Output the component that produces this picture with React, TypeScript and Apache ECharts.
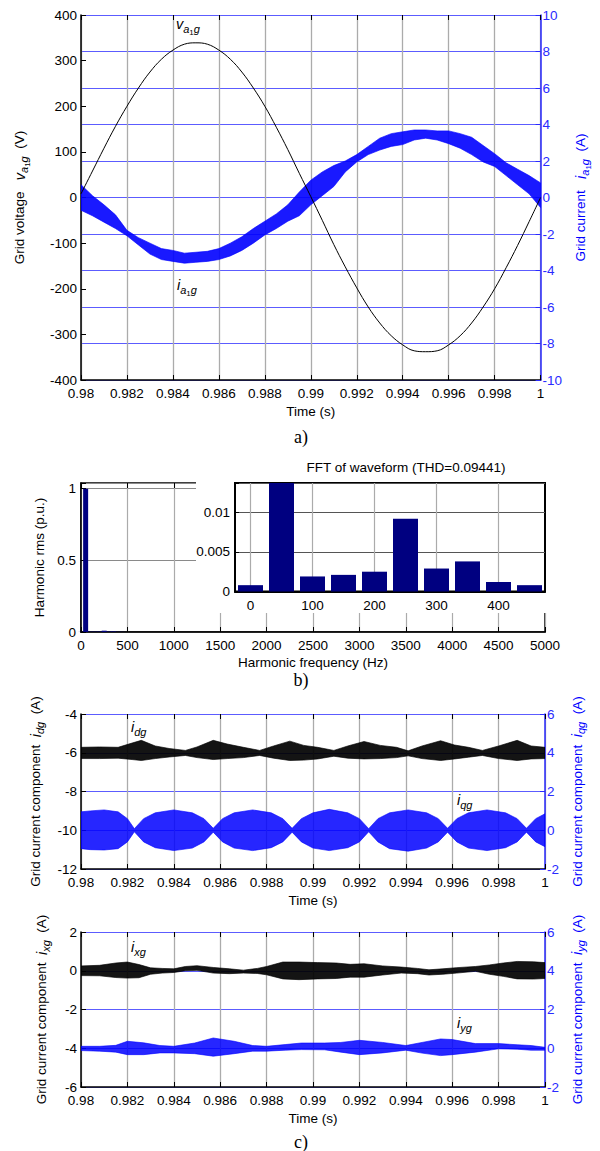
import React, { useEffect, useRef } from 'react';
import * as echarts from 'echarts';

// ---------- a) grid voltage and current ----------
const timeA = [
  0.98, 0.9805, 0.981, 0.9815, 0.982, 0.9825, 0.983, 0.9835, 0.984, 0.9845,
  0.985, 0.9855, 0.986, 0.9865, 0.987, 0.9875, 0.988, 0.9885, 0.989, 0.9895,
  0.99, 0.9905, 0.991, 0.9915, 0.992, 0.9925, 0.993, 0.9935, 0.994, 0.9945,
  0.995, 0.9955, 0.996, 0.9965, 0.997, 0.9975, 0.998, 0.9985, 0.999, 0.9995, 1.0,
];
const vaGrid = [
  8, 58, 108, 156, 200, 240, 275, 303, 323, 336,
  339, 336, 323, 303, 275, 240, 200, 154, 105, 53,
  2, -50, -103, -152, -198, -240, -275, -303, -323, -336,
  -338, -336, -323, -303, -275, -240, -200, -154, -105, -53, 0,
];
const iaLow = [
  -0.7, -1.0, -1.35, -1.7, -2.1, -2.6, -3.1, -3.4, -3.5, -3.6,
  -3.55, -3.5, -3.4, -3.2, -2.9, -2.5, -2.05, -1.7, -1.3, -1.0,
  -0.4, 0.1, 0.6, 1.4, 1.95, 2.35, 2.6, 2.8, 2.9, 3.15,
  3.25, 3.15, 2.95, 2.7, 2.35, 1.95, 1.7, 1.2, 0.7, 0.2, -0.55,
];
const iaHigh = [
  0.7, 0.1, -0.4, -0.95, -1.8, -2.2, -2.5, -2.8, -2.9, -3.05,
  -3.0, -2.95, -2.8, -2.5, -2.15, -1.7, -1.3, -0.9, -0.4, 0.3,
  0.95, 1.4, 1.75, 2.0, 2.35, 2.8, 3.25, 3.5, 3.6, 3.7,
  3.7, 3.65, 3.65, 3.5, 3.3, 2.85, 2.4, 1.9, 1.55, 1.2, 0.8,
];

// ---------- b) FFT ----------
const fftFreq = [0, 50, 100, 150, 200, 250, 300, 350, 400, 450];
const fftMag = [0.0008, 1.0, 0.0019, 0.0021, 0.0025, 0.0092, 0.0029, 0.0038, 0.0012, 0.0008];

// ---------- c) dq components ----------
const timeIdg = [
  0.98, 0.9808, 0.9816, 0.9822, 0.9826, 0.9832, 0.9838, 0.9845, 0.985, 0.9857,
  0.9863, 0.987, 0.9877, 0.9883, 0.989, 0.9896, 0.9902, 0.9909, 0.9915, 0.9922,
  0.9929, 0.9936, 0.9941, 0.9947, 0.9955, 0.9961, 0.9967, 0.9973, 0.998, 0.9988, 0.9994, 1.0,
];
const idgHigh = [
  -5.72, -5.7, -5.72, -5.5, -5.36, -5.65, -5.78, -5.88, -5.7, -5.36,
  -5.55, -5.72, -5.88, -5.65, -5.4, -5.62, -5.72, -5.88, -5.65, -5.42,
  -5.62, -5.72, -5.9, -5.65, -5.38, -5.6, -5.72, -5.88, -5.65, -5.36, -5.65, -5.72,
];
const idgLow = [
  -6.3, -6.3, -6.28, -6.35, -6.4, -6.3, -6.22, -6.14, -6.25, -6.35,
  -6.3, -6.25, -6.14, -6.28, -6.4, -6.38, -6.32, -6.18, -6.28, -6.32,
  -6.3, -6.25, -6.16, -6.3, -6.4, -6.32, -6.23, -6.14, -6.3, -6.4, -6.32, -6.3,
];

const timeIqg = [
  0.98, 0.9804, 0.981, 0.9816, 0.982, 0.9823, 0.9827, 0.9832, 0.984, 0.9848,
  0.9853, 0.9857, 0.9861, 0.9866, 0.9874, 0.9882, 0.9887, 0.9891, 0.9895, 0.99,
  0.9907, 0.9915, 0.992, 0.9924, 0.9928, 0.9933, 0.9941, 0.9949, 0.9954, 0.9958,
  0.9962, 0.9967, 0.9975, 0.9983, 0.9988, 0.9992, 0.9996, 1.0,
];
const iqgHigh = [
  0.95, 1.0, 1.05, 0.95, 0.6, 0.08, 0.6, 0.9, 1.05, 0.9,
  0.6, 0.1, 0.6, 0.9, 1.05, 0.9, 0.6, 0.1, 0.6, 0.9,
  1.08, 0.9, 0.6, 0.08, 0.6, 0.9, 1.05, 0.9, 0.6, 0.1,
  0.6, 0.9, 1.05, 0.9, 0.6, 0.1, 0.6, 0.85,
];
const iqgLow = [
  -0.95, -1.0, -1.02, -0.95, -0.6, -0.08, -0.6, -0.9, -1.05, -0.92,
  -0.6, -0.1, -0.6, -0.92, -1.05, -0.9, -0.6, -0.1, -0.6, -0.92,
  -1.05, -0.9, -0.6, -0.08, -0.6, -0.95, -1.08, -0.92, -0.6, -0.1,
  -0.6, -0.92, -1.05, -0.9, -0.6, -0.1, -0.6, -0.85,
];

const timeIxg = [
  0.98, 0.9808, 0.9815, 0.982, 0.9825, 0.983, 0.9835, 0.984, 0.9845, 0.985,
  0.9857, 0.9864, 0.987, 0.9876, 0.988, 0.9887, 0.9894, 0.9902, 0.991, 0.9916,
  0.9922, 0.993, 0.9938, 0.9945, 0.995, 0.9956, 0.9962, 0.997, 0.9976, 0.9982,
  0.9988, 0.9995, 1.0,
];
const ixgHigh = [
  0.25, 0.28, 0.4, 0.45, 0.32, 0.15, 0.12, 0.1, 0.22, 0.26,
  0.17, 0.1, 0.03, 0.12, 0.22, 0.45, 0.45, 0.42, 0.4, 0.33,
  0.36, 0.25, 0.19, 0.12, 0.05, 0.1, 0.16, 0.22, 0.3, 0.4,
  0.48, 0.46, 0.42,
];
const ixgLow = [
  -0.25, -0.26, -0.35, -0.38, -0.36, -0.18, -0.12, -0.09, 0.0, 0.02,
  -0.12, -0.15, -0.12, -0.14, -0.21, -0.42, -0.46, -0.42, -0.4, -0.33,
  -0.33, -0.22, -0.12, -0.15, -0.22, -0.18, -0.12, -0.03, -0.18, -0.29,
  -0.42, -0.43, -0.4,
];

const timeIyg = [
  0.98, 0.9808, 0.9815, 0.982, 0.9827, 0.9834, 0.984, 0.9849, 0.9857, 0.9866,
  0.9874, 0.988, 0.9888, 0.9895, 0.9905, 0.9912, 0.992, 0.993, 0.994, 0.9947,
  0.9955, 0.996, 0.997, 0.998, 0.9988, 0.9994, 1.0,
];
const iygHigh = [
  0.1, 0.1, 0.15, 0.36, 0.28, 0.14, 0.1, 0.27, 0.53, 0.36,
  0.14, 0.1, 0.19, 0.27, 0.27, 0.3, 0.41, 0.3, 0.14, 0.3,
  0.48, 0.45, 0.24, 0.24, 0.18, 0.14, 0.05,
];
const iygLow = [
  -0.12, -0.15, -0.2, -0.33, -0.33, -0.24, -0.24, -0.28, -0.41, -0.28,
  -0.15, -0.15, -0.1, -0.07, -0.08, -0.2, -0.33, -0.24, -0.1, -0.25,
  -0.38, -0.33, -0.2, -0.03, -0.05, -0.1, -0.1,
];

// ---------- styles ----------
const FONT = 'Liberation Sans';
const FS = 13.5;
const BLUE = '#0000ff';
const AXBLUE = '#2a2aff';
const GRIDBLUE = '#5c5cff';
const GREY = '#ababab';

const rich = (color: string) => ({
  i: { fontStyle: 'italic', fontSize: 14.5, color, fontFamily: FONT },
  s: { fontStyle: 'italic', fontSize: 11, color, fontFamily: FONT, padding: [8, 0, 0, 0] },
  ss: { fontSize: 8, color, fontFamily: FONT, padding: [15, 0, 0, 0] },
});

function xBottom(gridIndex: number, min: number, max: number, interval: number, name: string, nameGap: number) {
  return {
    type: 'value', gridIndex, min, max, interval, position: 'bottom',
    name, nameLocation: 'middle', nameGap,
    nameTextStyle: { fontSize: FS, color: '#000', fontFamily: FONT },
    axisLine: { show: true, onZero: false, lineStyle: { color: '#000', width: 1.5 } },
    axisTick: { show: true, inside: true, length: 5, lineStyle: { color: '#000', width: 1 } },
    axisLabel: { color: '#000', fontSize: FS, margin: 6, fontFamily: FONT },
    splitLine: { show: true, lineStyle: { color: GREY, width: 1.3 } },
  };
}
function xTop(gridIndex: number, min: number, max: number, interval: number) {
  return {
    type: 'value', gridIndex, min, max, interval, position: 'top',
    axisLine: { show: false, onZero: false },
    axisTick: { show: true, inside: true, length: 5, lineStyle: { color: '#000', width: 1 } },
    axisLabel: { show: false },
    splitLine: { show: false },
  };
}
function yAx(gridIndex: number, pos: 'left' | 'right', min: number, max: number, interval: number,
  name: string, nameGap: number, color: string, split: boolean, margin: number) {
  return {
    type: 'value', gridIndex, position: pos, min, max, interval,
    name, nameLocation: 'middle', nameGap, nameRotate: 90,
    nameTextStyle: { fontSize: FS, color, fontFamily: FONT, rich: rich(color) },
    axisLine: { show: true, onZero: false, lineStyle: { color: pos === 'left' ? '#000' : AXBLUE, width: 1.5 } },
    axisTick: { show: true, inside: true, length: 5, lineStyle: { color: pos === 'left' ? '#000' : AXBLUE, width: 1 } },
    axisLabel: { color: pos === 'left' ? '#000' : AXBLUE, fontSize: FS, margin, fontFamily: FONT },
    splitLine: { show: split, lineStyle: { color: GRIDBLUE, width: 1 } },
  };
}

function band(name: string, ts: number[], lo: number[], hi: number[], xi: number, yi: number,
  color: string, opacity: number, z: number) {
  return {
    type: 'custom', name, xAxisIndex: xi, yAxisIndex: yi, z, clip: true, silent: true,
    data: ts.map((t, i) => [t, lo[i], hi[i]]),
    encode: { x: 0, y: [1, 2] },
    renderItem: (params: any, api: any) => {
      if (params.dataIndex !== 0) return null;
      const top = ts.map((t, i) => api.coord([t, hi[i]]));
      const bot = ts.map((t, i) => api.coord([t, lo[i]])).reverse();
      return {
        type: 'polygon',
        shape: { points: top.concat(bot) },
        style: { fill: color, opacity, stroke: color, lineWidth: 0.7 },
      };
    },
  };
}

function label(x: number, y: number, text: string) {
  return {
    type: 'text', x, y, z: 30,
    style: {
      text, fill: '#000', verticalAlign: 'middle', align: 'left',
      fontFamily: FONT, fontSize: 14,
      rich: {
        i: { fontStyle: 'italic', fontSize: 14.5, fill: '#000', fontFamily: FONT },
        s: { fontStyle: 'italic', fontSize: 11, fill: '#000', fontFamily: FONT, padding: [9, 0, 0, 0] },
        ss: { fontSize: 8, fill: '#000', fontFamily: FONT, padding: [16, 0, 0, 0] },
      },
    },
  };
}
function caption(x: number, y: number, text: string) {
  return {
    type: 'text', x, y, z: 30,
    style: { text, fill: '#000', align: 'center', verticalAlign: 'middle', fontFamily: 'Liberation Serif', fontSize: 18 },
  };
}

const multipleOf = (v: number, step: number) => Math.abs(v / step - Math.round(v / step)) < 1e-6;

export default function App() {
  const ref = useRef<HTMLDivElement>(null);
  useEffect(() => {
    if (!ref.current) return;
    const chart = echarts.init(ref.current, null, { renderer: 'svg' });
    const mainFreqAxis: any = xBottom(1, 0, 5000, 500, 'Harmonic frequency (Hz)', 23);
    mainFreqAxis.splitLine = { show: true, lineStyle: { color: GREY, width: 1.2 } };
    mainFreqAxis.axisLabel = { ...mainFreqAxis.axisLabel, formatter: (v: number) => String(Math.round(v)) };
    const option: any = {
      animation: false,
      backgroundColor: '#fff',
      textStyle: { fontFamily: FONT },
      grid: [
        { left: 81, top: 15, width: 464, height: 365 },
        { left: 81, top: 483, width: 464, height: 149, show: true, borderColor: '#000', borderWidth: 1.5, backgroundColor: 'transparent' },
        { left: 235, top: 483, width: 310, height: 108.5, show: true, borderColor: '#000', borderWidth: 2, backgroundColor: 'transparent', z: 10 },
        { left: 81, top: 714, width: 464, height: 155 },
        { left: 81, top: 932, width: 464, height: 155 },
      ],
      xAxis: [
        xBottom(0, 0.98, 1, 0.002, 'Time (s)', 24),
        xTop(0, 0.98, 1, 0.002),
        mainFreqAxis,
        xTop(1, 0, 5000, 500),
        {
          type: 'value', gridIndex: 2, min: -25, max: 475, position: 'bottom', z: 10,
          axisLine: { show: true, onZero: false, lineStyle: { color: '#000', width: 2 } },
          axisTick: { show: true, inside: true, length: 4, customValues: [0, 100, 200, 300, 400], lineStyle: { color: '#000' } },
          axisLabel: {
            color: '#000', fontSize: FS, margin: 7, fontFamily: FONT,
            customValues: [0, 100, 200, 300, 400],
            formatter: (v: number) => (v >= 0 && v <= 400 && multipleOf(v, 100) ? String(Math.round(v)) : ''),
          },
          splitLine: { show: true, lineStyle: { color: GREY, width: 1.2 } },
        },
        xBottom(3, 0.98, 1, 0.002, 'Time (s)', 24),
        xTop(3, 0.98, 1, 0.002),
        xBottom(4, 0.98, 1, 0.002, 'Time (s)', 24),
        xTop(4, 0.98, 1, 0.002),
      ],
      yAxis: [
        yAx(0, 'left', -400, 400, 100, 'Grid voltage   {i|v}{s|a}{ss|1}{s|g}  (V)', 50, '#000', false, 4),
        yAx(0, 'right', -10, 10, 2, 'Grid current   {i|i}{s|a}{ss|1}{s|g}  (A)', 26, BLUE, true, 2),
        {
          ...yAx(1, 'left', 0, 1.04, 0.5, 'Harmonic rms (p.u.)', 31, '#000', true, 5),
          splitLine: { show: true, lineStyle: { color: '#8a8a8a', width: 1 } },
          axisLabel: {
            color: '#000', fontSize: FS, margin: 5, fontFamily: FONT,
            formatter: (v: number) => (multipleOf(v, 0.5) ? String(+v.toFixed(2)) : ''),
          },
        },
        {
          type: 'value', gridIndex: 2, position: 'left', min: 0, max: 0.0137, interval: 0.005, z: 10,
          axisLine: { show: true, onZero: false, lineStyle: { color: '#000', width: 2 } },
          axisTick: { show: true, inside: true, length: 4, lineStyle: { color: '#000' } },
          axisLabel: {
            color: '#000', fontSize: FS, margin: 5, fontFamily: FONT,
            formatter: (v: number) => (multipleOf(v, 0.005) ? String(+v.toFixed(4)) : ''),
          },
          splitLine: { show: true, lineStyle: { color: '#555', width: 1 } },
        },
        yAx(3, 'left', -12, -4, 2, 'Grid current component  {i|i}{s|dg}  (A)', 36, '#000', false, 4),
        yAx(3, 'right', -2, 6, 2, 'Grid current component  {i|i}{s|qg}  (A)', 20, BLUE, true, 2),
        yAx(4, 'left', -6, 2, 2, 'Grid current component  {i|i}{s|xg}  (A)', 30, '#000', false, 4),
        yAx(4, 'right', -2, 6, 2, 'Grid current component  {i|i}{s|yg}  (A)', 20, BLUE, true, 2),
      ],
      series: [
        band('i_a1g', timeA, iaLow, iaHigh, 0, 1, BLUE, 0.9, 3),
        {
          type: 'line', name: 'v_a1g', xAxisIndex: 0, yAxisIndex: 0, z: 4,
          data: timeA.map((t, i) => [t, vaGrid[i]]),
          showSymbol: false, smooth: 0.4,
          lineStyle: { color: '#000', width: 1 },
        },
        {
          type: 'bar', name: 'FFT', xAxisIndex: 2, yAxisIndex: 2, z: 3, clip: true,
          data: fftFreq.map((f, i) => [f, fftMag[i]]),
          barWidth: 5, itemStyle: { color: '#000080' },
        },
        {
          type: 'bar', name: 'FFT zoom', xAxisIndex: 4, yAxisIndex: 3, z: 12, clip: true,
          data: fftFreq.map((f, i) => [f, fftMag[i]]),
          barWidth: 25, itemStyle: { color: '#000080' },
        },
        band('i_dg', timeIdg, idgLow, idgHigh, 5, 4, '#000', 0.92, 3),
        band('i_qg', timeIqg, iqgLow, iqgHigh, 5, 5, BLUE, 0.85, 3),
        band('i_xg', timeIxg, ixgLow, ixgHigh, 7, 6, '#000', 0.92, 3),
        band('i_yg', timeIyg, iygLow, iygHigh, 7, 7, BLUE, 0.85, 3),
      ],
      graphic: [
        { type: 'rect', z: 5, shape: { x: 196, y: 482, width: 351, height: 131 }, style: { fill: '#fff' } },
        {
          type: 'text', x: 406, y: 467, z: 30,
          style: { text: 'FFT of waveform (THD=0.09441)', fill: '#000', align: 'center', verticalAlign: 'middle', fontFamily: FONT, fontSize: FS },
        },
        label(176, 24, '{i|v}{s|a}{ss|1}{s|g}'),
        label(177, 285, '{i|i}{s|a}{ss|1}{s|g}'),
        label(131, 727, '{i|i}{s|dg}'),
        label(457, 800, '{i|i}{s|qg}'),
        label(131, 947, '{i|i}{s|xg}'),
        label(457, 1023, '{i|i}{s|yg}'),
        caption(301, 437, 'a)'),
        caption(301, 680, 'b)'),
        caption(301, 1142, 'c)'),
      ],
    };
    chart.setOption(option);
    return () => chart.dispose();
  }, []);
  return (
    <div
      ref={ref}
      style={{ position: 'absolute', left: 0, top: 0, width: 600, height: 1151 }}
    />
  );
}
